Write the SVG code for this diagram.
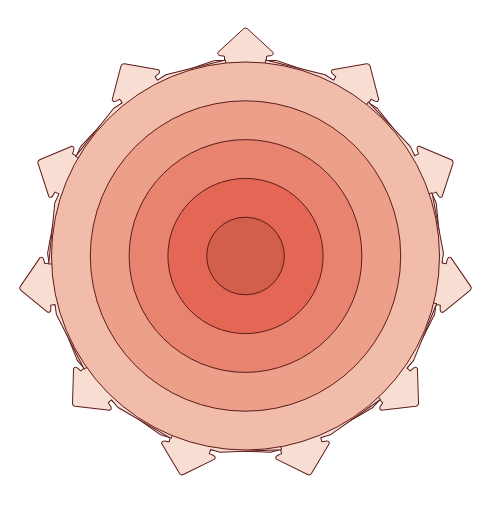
<svg xmlns="http://www.w3.org/2000/svg" width="492" height="513" viewBox="0 0 492 513">
  <style>
    .arrow { fill: #f8ddd3; stroke: #5e1b1b; stroke-width: 1; stroke-linejoin: round; }
    .ring { stroke: #5e1b1b; stroke-width: 1; }
  </style>
  <defs>
    <path id="piece" d="M -80,-158 L -89.1,-175.7 L -31,-195.5 L -21,-195.5 L -21,-199.8 L -24.5,-200.2 Q -28.5,-200.6 -27.6,-203.6 L -2,-227.2 Q 0,-228.8 2,-227.2 L 27.6,-203.6 Q 28.5,-200.6 24.5,-200.2 L 21,-199.8 L 21,-195.5 L 31,-195.5 L 89.1,-175.7 L 80,-158 Z"/>
  </defs>
  <rect width="492" height="513" fill="#ffffff"/>
  <g id="connectors" transform="translate(245.5,256)">
    <use href="#piece" class="arrow" transform="rotate(0)"/>
    <use href="#piece" class="arrow" transform="rotate(32.727)"/>
    <use href="#piece" class="arrow" transform="rotate(65.455)"/>
    <use href="#piece" class="arrow" transform="rotate(98.182)"/>
    <use href="#piece" class="arrow" transform="rotate(130.909)"/>
    <use href="#piece" class="arrow" transform="rotate(163.636)"/>
    <use href="#piece" class="arrow" transform="rotate(196.364)"/>
    <use href="#piece" class="arrow" transform="rotate(229.091)"/>
    <use href="#piece" class="arrow" transform="rotate(261.818)"/>
    <use href="#piece" class="arrow" transform="rotate(294.545)"/>
    <use href="#piece" class="arrow" transform="rotate(327.273)"/>
  </g>
  <g id="ring1"><circle class="ring" cx="245.5" cy="256" r="194" fill="#f1bca9"/></g>
  <g id="ring2"><circle class="ring" cx="245.5" cy="256" r="155.2" fill="#eca08a"/></g>
  <g id="ring3"><circle class="ring" cx="245.5" cy="256" r="116.4" fill="#e8836f"/></g>
  <g id="ring4"><circle class="ring" cx="245.5" cy="256" r="77.6" fill="#e46654"/></g>
  <g id="ring5"><circle class="ring" cx="245.5" cy="256" r="38.8" fill="#d25f4c"/></g>
</svg>
